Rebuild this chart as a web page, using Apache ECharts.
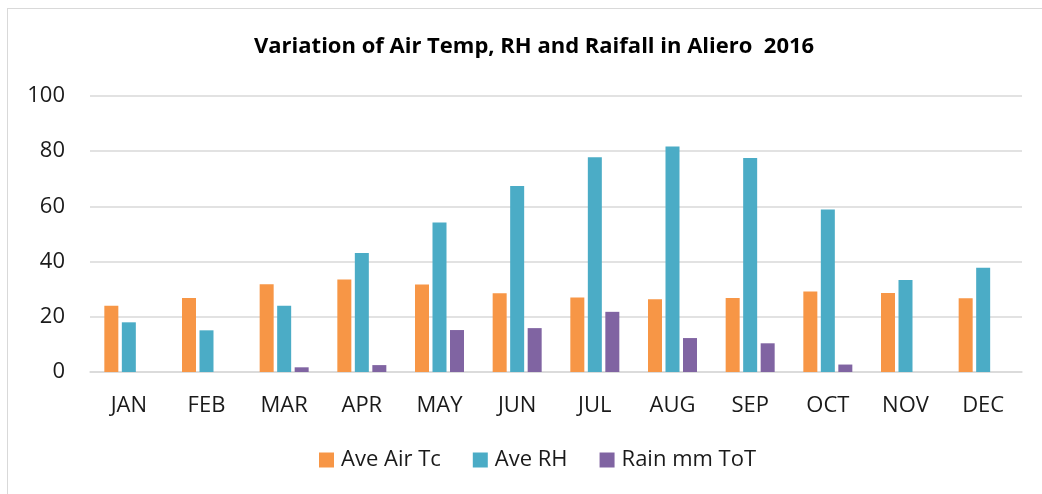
<!DOCTYPE html>
<html>
<head>
<meta charset="utf-8">
<script src="https://cdn.jsdelivr.net/npm/echarts@6/dist/echarts.min.js"></script>
<style>
  html, body { margin: 0; padding: 0; background: #fff; }
  #frame { position: absolute; left: 7px; top: 8px; width: 1100px; height: 600px; border-left: 1px solid #d9d9d9; border-top: 1px solid #d9d9d9; }
  #chart { position: absolute; left: 0; top: 0; width: 1042px; height: 494px; }
</style>
</head>
<body>
<div id="frame"></div>
<div id="chart"></div>
<script>
const months = ['JAN', 'FEB', 'MAR', 'APR', 'MAY', 'JUN', 'JUL', 'AUG', 'SEP', 'OCT', 'NOV', 'DEC'];
const airTemp = [24.0, 26.8, 31.8, 33.5, 31.7, 28.5, 27.0, 26.4, 26.8, 29.2, 28.6, 26.7];
const relHumidity = [18.0, 15.1, 24.0, 43.1, 54.2, 67.4, 77.8, 81.7, 77.5, 58.9, 33.3, 37.8];
const rainfall = [0, 0, 1.7, 2.5, 15.2, 15.9, 21.8, 12.3, 10.4, 2.7, 0, 0];

const colors = ['#F79646', '#4BACC6', '#8064A2'];
const font = '"Open Sans", "Noto Sans", sans-serif';

function barSeries(name, data, color) {
  return {
    name,
    type: 'bar',
    data,
    barWidth: 14,
    barGap: '25%',
    itemStyle: { color },
  };
}

const chart = echarts.init(document.getElementById('chart'));
chart.setOption({
  animation: false,
  backgroundColor: 'transparent',
  title: {
    text: 'Variation of Air Temp, RH and Raifall in Aliero  2016',
    left: 249,
    top: 31,
    textStyle: { fontFamily: font, fontSize: 22, fontWeight: 'bold', color: '#000' },
  },
  legend: {
    bottom: 18,
    left: 314,
    itemWidth: 15,
    itemHeight: 15,
    itemGap: 32,
    icon: 'rect',
    textStyle: { fontFamily: font, fontSize: 22, color: '#1a1a1a', padding: [0, 0, 0, 2] },
  },
  grid: { left: 90, right: 20, top: 96, bottom: 122 },
  xAxis: {
    type: 'category',
    data: months,
    axisTick: { show: false },
    axisLine: { lineStyle: { color: '#d9d9d9', width: 1.5 } },
    axisLabel: { fontFamily: font, fontSize: 22, color: '#1a1a1a', margin: 23 },
  },
  yAxis: {
    type: 'value',
    min: 0,
    max: 100,
    interval: 20,
    axisLine: { show: false },
    axisTick: { show: false },
    splitLine: { lineStyle: { color: '#d9d9d9', width: 1.5 } },
    axisLabel: { fontFamily: font, fontSize: 22, color: '#1a1a1a', margin: 25 },
  },
  series: [
    barSeries('Ave Air Tc', airTemp, colors[0]),
    barSeries('Ave RH', relHumidity, colors[1]),
    barSeries('Rain mm ToT', rainfall, colors[2]),
  ],
});
</script>
</body>
</html>
